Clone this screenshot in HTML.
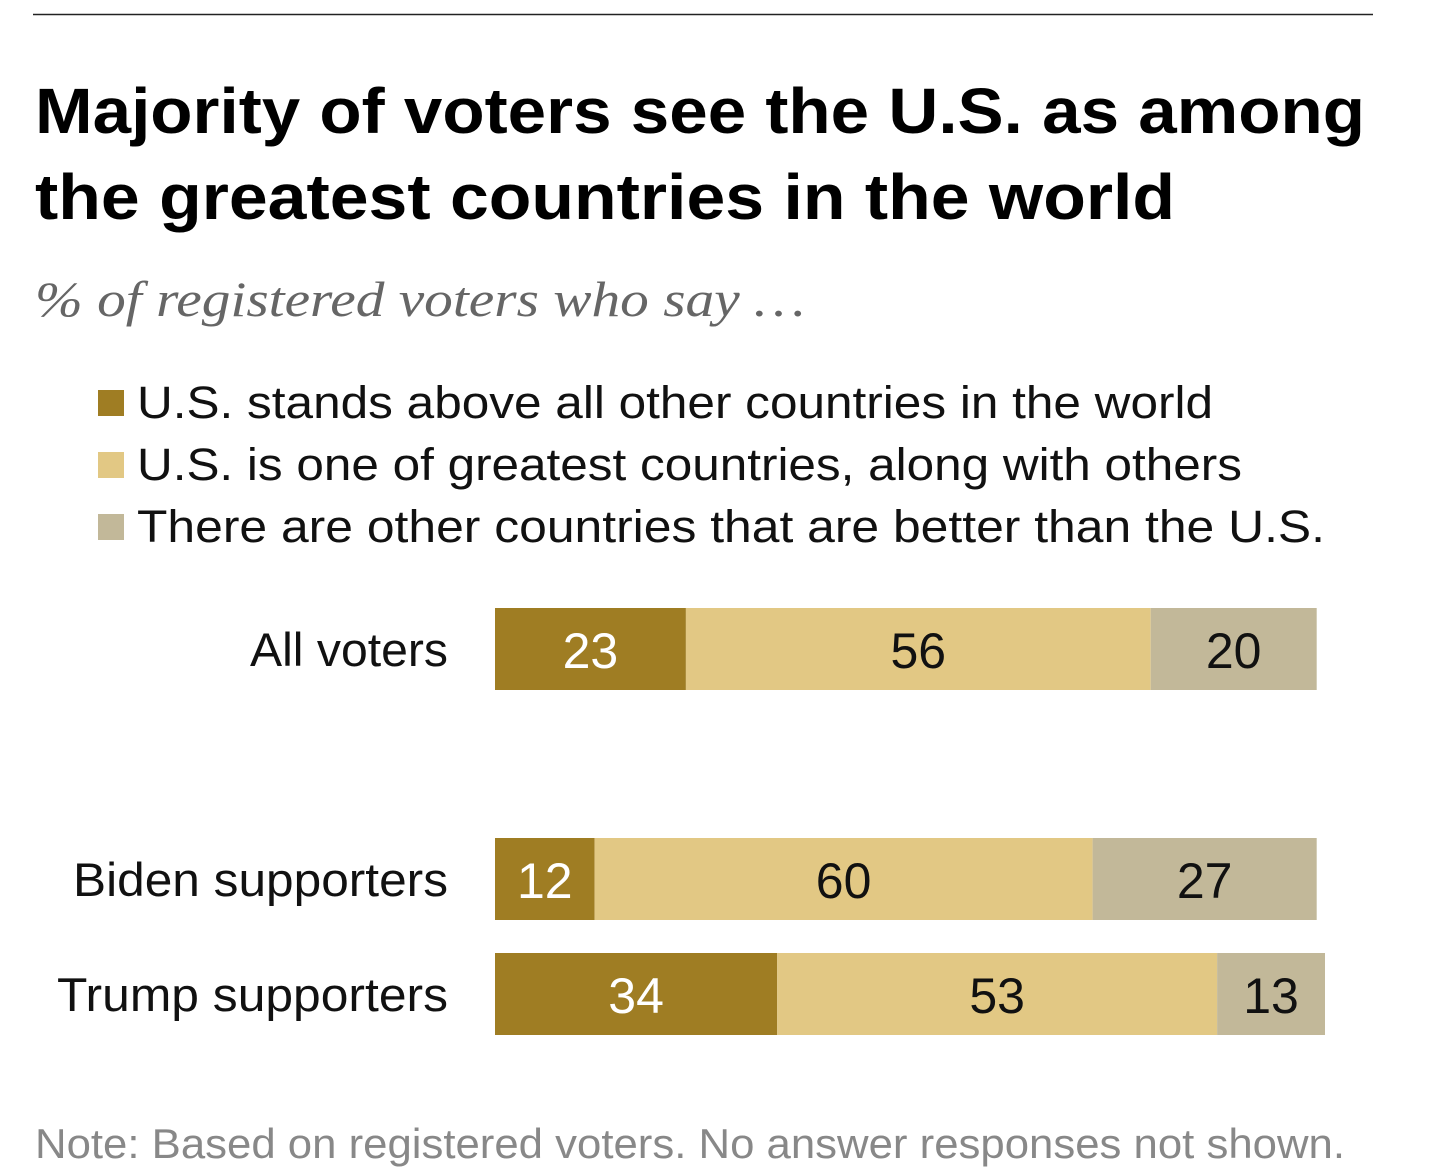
<!DOCTYPE html>
<html><head><meta charset="utf-8"><style>
html,body{margin:0;padding:0;background:#fff;}
svg{display:block;}
</style></head><body>
<svg id="chart" width="1456" height="1174" xmlns="http://www.w3.org/2000/svg">
<line x1="33" y1="14.5" x2="1373" y2="14.5" stroke="#222" stroke-width="1.5"/>
<text x="35" y="133" font-family="Liberation Sans, sans-serif" font-weight="bold" font-size="64" fill="#000" textLength="1330" lengthAdjust="spacingAndGlyphs">Majority of voters see the U.S. as among</text>
<text x="35" y="219" font-family="Liberation Sans, sans-serif" font-weight="bold" font-size="64" fill="#000" textLength="1140" lengthAdjust="spacingAndGlyphs">the greatest countries in the world</text>
<text x="35" y="316" font-family="Liberation Serif, serif" font-style="italic" font-size="50" fill="#666" textLength="770" lengthAdjust="spacingAndGlyphs">% of registered voters who say …</text>
<g id="legend"></g>
<g id="bars"></g>
<text x="35" y="1158" font-family="Liberation Sans, sans-serif" font-size="42" fill="#888" textLength="1310" lengthAdjust="spacingAndGlyphs">Note: Based on registered voters. No answer responses not shown.</text>
</svg>
<script>
const categories = ["All voters", "Biden supporters", "Trump supporters"];
const aboveAll = [23, 12, 34];
const oneOfGreatest = [56, 60, 53];
const othersBetter = [20, 27, 13];
const seriesNames = ["U.S. stands above all other countries in the world","U.S. is one of greatest countries, along with others","There are other countries that are better than the U.S."];

const NS = "http://www.w3.org/2000/svg";
const colors = ["#9f7d23", "#e2c884", "#c2b899"];
const textColors = ["#fff", "#111", "#111"];
const x0 = 495, scale = 8.3;
const rowTops = [608, 838, 953];
const barH = 82;
const xPos = v => x0 + v * scale;
const legendW = [1076, 1105, 1188];
const labelW = [198, 375, 391];

const legend = document.getElementById('legend');
seriesNames.forEach((name, i) => {
  const r = document.createElementNS(NS, 'rect');
  r.setAttribute('x', 98); r.setAttribute('y', 390 + i * 62);
  r.setAttribute('width', 26); r.setAttribute('height', 26);
  r.setAttribute('fill', colors[i]);
  
  
  legend.appendChild(r);
  const t = document.createElementNS(NS, 'text');
  t.setAttribute('x', 137); t.setAttribute('y', 418 + i * 62);
  t.setAttribute('font-family', 'Liberation Sans, sans-serif');
  t.setAttribute('font-size', '45');
  t.setAttribute('fill', '#111');
  t.setAttribute('textLength', legendW[i]);
  t.setAttribute('lengthAdjust', 'spacingAndGlyphs');
  t.textContent = name;
  
  
  legend.appendChild(t);
});

const bars = document.getElementById('bars');
const series = [aboveAll, oneOfGreatest, othersBetter];
categories.forEach((cat, ci) => {
  const y = rowTops[ci];
  const lab = document.createElementNS(NS, 'text');
  lab.setAttribute('x', 448); lab.setAttribute('y', y + 58);
  lab.setAttribute('text-anchor', 'end');
  lab.setAttribute('font-family', 'Liberation Sans, sans-serif');
  lab.setAttribute('font-size', '47');
  lab.setAttribute('fill', '#111');
  lab.setAttribute('textLength', labelW[ci]);
  lab.setAttribute('lengthAdjust', 'spacingAndGlyphs');
  lab.textContent = cat;
  
  
  bars.appendChild(lab);
  let cum = 0;
  series.forEach((s, si) => {
    const v = s[ci];
    const r = document.createElementNS(NS, 'rect');
    r.setAttribute('x', xPos(cum)); r.setAttribute('y', y);
    r.setAttribute('width', v * scale); r.setAttribute('height', barH);
    r.setAttribute('fill', colors[si]);
    
    
    bars.appendChild(r);
    const t = document.createElementNS(NS, 'text');
    t.setAttribute('x', xPos(cum + v / 2)); t.setAttribute('y', y + 60);
    t.setAttribute('text-anchor', 'middle');
    t.setAttribute('font-family', 'Liberation Sans, sans-serif');
    t.setAttribute('font-size', '50');
    t.setAttribute('fill', textColors[si]);
    t.textContent = v;
    
    
    bars.appendChild(t);
    cum += v;
  });
});
</script>
</body></html>
